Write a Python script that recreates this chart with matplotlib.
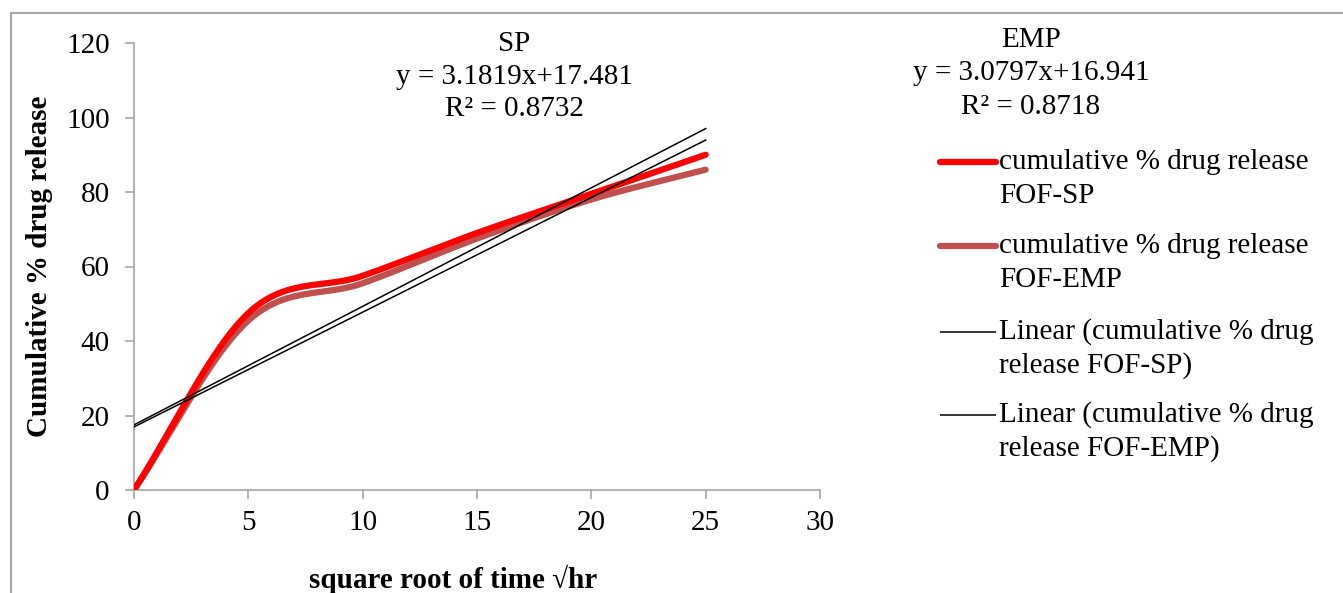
import numpy as np
import matplotlib.pyplot as plt
from matplotlib.lines import Line2D
from matplotlib.patches import Rectangle


W, H = 1343, 593

sqrt_time = [0, 5, 10, 15, 20, 25]
release_sp = [0, 47.5, 57.5, 69, 79.5, 90]
release_emp = [0, 45.5, 55.5, 67.5, 78, 86]

fit_sp = (3.1819, 17.481)
fit_emp = (3.0797, 16.941)

label_sp = "cumulative % drug release\nFOF-SP"
label_emp = "cumulative % drug release\nFOF-EMP"
label_lin_sp = "Linear (cumulative % drug\nrelease FOF-SP)"
label_lin_emp = "Linear (cumulative % drug\nrelease FOF-EMP)"

RED = "#ff0000"
BROWN = "#c0504d"
GRAY = "#a6a6a6"
FS = 21


def smooth(x, y, steps=30):
    # catmull-rom style curve like excel's smoothed line
    x = np.asarray(x, float)
    y = np.asarray(y, float)
    px = np.concatenate([[2 * x[0] - x[1]], x, [2 * x[-1] - x[-2]]])
    py = np.concatenate([[2 * y[0] - y[1]], y, [2 * y[-1] - y[-2]]])
    xs, ys = [], []
    for i in range(1, len(px) - 2):
        t = np.linspace(0, 1, steps)
        for p, out in ((px, xs), (py, ys)):
            p0, p1, p2, p3 = p[i - 1], p[i], p[i + 1], p[i + 2]
            out.extend(0.5 * (2 * p1 + (-p0 + p2) * t
                              + (2 * p0 - 5 * p1 + 4 * p2 - p3) * t ** 2
                              + (-p0 + 3 * p1 - 3 * p2 + p3) * t ** 3))
    return xs, ys


def fx(px):
    return px / W


def fy(py):
    return 1 - py / H


plt.rcParams["font.family"] = ["Liberation Serif", "DejaVu Serif"]

fig = plt.figure(figsize=(W / 100, H / 100), dpi=100)
ax = fig.add_axes([fx(134), fy(490), fx(820) - fx(134), fy(43) - fy(490)])

xs, ys = smooth(sqrt_time, release_sp)
ax.plot(xs, ys, color=RED, lw=4.5, solid_capstyle="round", zorder=3)
xs, ys = smooth(sqrt_time, release_emp)
ax.plot(xs, ys, color=BROWN, lw=4.5, solid_capstyle="round", zorder=2)

xline = np.array([sqrt_time[0], sqrt_time[-1]])
for slope, icpt in (fit_sp, fit_emp):
    ax.plot(xline, slope * xline + icpt, color="black", lw=1.1, zorder=4)

ax.set_xlim(0, 30)
ax.set_ylim(0, 120)
ax.set_xticks(range(0, 31, 5))
ax.set_yticks(range(0, 121, 20))
for side in ("top", "right"):
    ax.spines[side].set_visible(False)
for side in ("left", "bottom"):
    ax.spines[side].set_color(GRAY)
    ax.spines[side].set_linewidth(1.2)
ax.tick_params(colors=GRAY, labelcolor="black", labelsize=FS, length=6.5, width=1.2)
ax.tick_params(axis="x", pad=8)
ax.tick_params(axis="y", pad=11)

fig.text(fx(40), fy(266), "Cumulative % drug release", rotation=90, ha="center",
         va="center", fontsize=FS, fontweight="bold")
fig.text(fx(453), fy(579), "square root of time √hr", ha="center", va="center",
         fontsize=FS, fontweight="bold")

# trendline labels
for cx, name, fit, r2, ys_ in ((514, "SP", fit_sp, "0.8732", (44, 77, 109)),
                               (1031, "EMP", fit_emp, "0.8718", (40, 73, 107))):
    fig.text(fx(cx), fy(ys_[0]), name, ha="center", va="center", fontsize=FS)
    fig.text(fx(cx), fy(ys_[1]), f"y = {fit[0]}x+{fit[1]}", ha="center",
             va="center", fontsize=FS)
    fig.text(fx(cx), fy(ys_[2]), f"R² = {r2}", ha="center", va="center",
             fontsize=FS)

# legend drawn by hand so the handle sits on the first line of each label
entries = [(label_sp, RED, 4.5, 162), (label_emp, BROWN, 4.5, 246),
           (label_lin_sp, "black", 1.1, 332), (label_lin_emp, "black", 1.1, 415)]
for text, color, lw, y in entries:
    fig.add_artist(Line2D([fx(940), fx(996)], [fy(y), fy(y)], color=color, lw=lw,
                          solid_capstyle="round" if lw > 2 else "butt"))
    for k, line in enumerate(text.split("\n")):
        fig.text(fx(999), fy(y + 34 * k), line, ha="left", va="center",
                 fontsize=FS)

fig.add_artist(Rectangle((fx(11), fy(H + 10)), 1.2, fy(13) - fy(H + 10),
                         transform=fig.transFigure, fill=False, ec=GRAY, lw=1.5))

fig.savefig("out.png", dpi=100)
